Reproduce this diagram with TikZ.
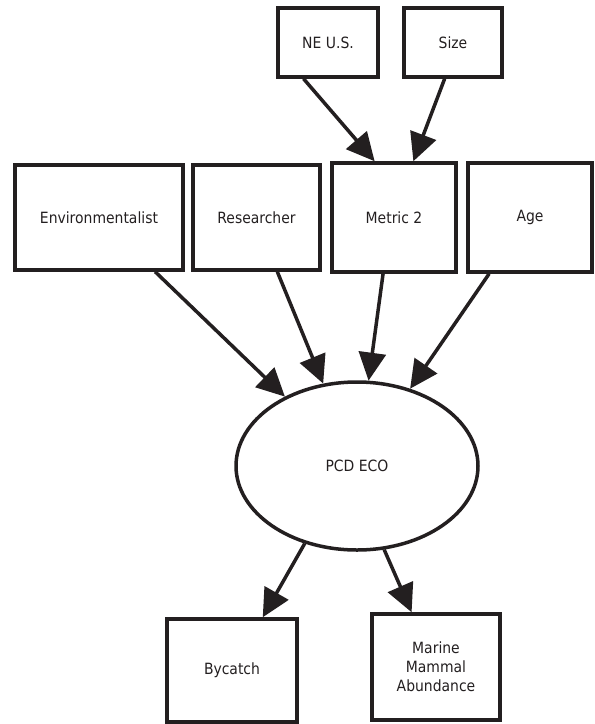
\documentclass[tikz,border=0pt]{standalone}
\usepackage{fontspec}
\setmainfont{DejaVu Sans Condensed}
\usetikzlibrary{arrows.meta,shapes.geometric}
\definecolor{ink}{HTML}{231F20}

\begin{document}
\begin{tikzpicture}[x=1pt, y=-1pt,
		box/.style={draw=ink, text=ink, line width=3.5pt, rectangle, inner sep=0pt, font=\fontsize{15.5}{19}\selectfont, align=center},
		arr/.style={draw=ink, line width=3.5pt, -{Triangle[length=28pt, width=27pt]}}]
		\useasboundingbox (0,0) rectangle (595,724);
		
		\node[box, minimum width=100pt, minimum height=69pt] (ne) at (328,42.5) {NE U.S.};
		\node[box, minimum width=98pt, minimum height=69pt] (size) at (453,42.5) {Size};
		\node[box, minimum width=168pt, minimum height=105pt] (env) at (99,217.5) {Environmentalist};
		\node[box, minimum width=127pt, minimum height=105pt] (res) at (256.5,217.5) {Researcher};
		\node[box, minimum width=124pt, minimum height=109pt] (met) at (394,217.5) {Metric 2};
		\node[box, minimum width=124pt, minimum height=109pt] (age) at (530,217.5) {Age};
		\node[box, ellipse, minimum width=242pt, minimum height=168pt] (eco) at (357,466) {PCD ECO};
		\node[box, minimum width=130pt, minimum height=103pt] (byc) at (232,670.5) {Bycatch};
		\node[box, minimum width=128pt, minimum height=106pt] (mar) at (436,667) {Marine\\Mammal\\Abundance};
		
		\draw[arr] (ne.-124) to (met.109);
		\draw[arr] (size.-103) to (met.71);
		\draw[arr] (env.-44) to (eco);
		\draw[arr] (res.-69) to (eco);
		\draw[arr] (met.-101) to (eco);
		\draw[arr] (age.-126) to (eco);
		\draw[arr] (eco.-124) to (byc.60);
		\draw[arr] (eco.-72) to (mar.114);
		
\end{tikzpicture}
\end{document}
